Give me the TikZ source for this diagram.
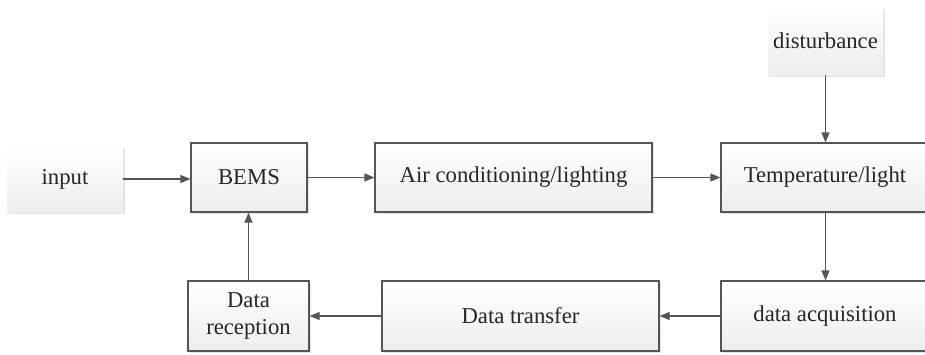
\documentclass[tikz,border=0pt]{standalone}
\usepackage{fontspec}
\setmainfont{Liberation Serif}
\usetikzlibrary{arrows.meta,shadows}
\definecolor{linec}{HTML}{555555}
\definecolor{textc}{HTML}{262626}
\tikzset{
  base/.style={rectangle, inner sep=2pt, align=center, text=textc,
    font=\fontsize{22.7}{25}\selectfont, top color=white, bottom color=gray!14,
    drop shadow={shadow xshift=2pt, shadow yshift=-2pt, fill=gray!35, opacity=0.6}},
  blk/.style={base, draw=linec, line width=1.2pt},
  src/.style={base},
  conn/.style={draw=linec, line width=1.2pt, -{Triangle[length=10pt,width=8pt]}}
}
\begin{document}
\begin{tikzpicture}[x=1pt,y=-1pt]
\useasboundingbox (0,0) rectangle (925,354);
\node[src, minimum width=116pt, minimum height=66pt] (input) at (65,179) {input};
\node[src, minimum width=115pt, minimum height=68pt] (dist) at (825.5,41) {disturbance};
\node[blk, minimum width=116pt, minimum height=69pt] (bems) at (249,177.5) {BEMS};
\node[blk, minimum width=277pt, minimum height=69pt] (air) at (513.5,177.5) {Air conditioning/lighting};
\node[blk, minimum width=208pt, minimum height=69pt] (temp) at (825,177.5) {Temperature/light};
\node[blk, minimum width=121pt, minimum height=70pt] (rec) at (248.5,316) {Data\\[2pt]reception};
\node[blk, minimum width=277pt, minimum height=70pt] (trans) at (520.5,316) {Data transfer};
\node[blk, minimum width=208pt, minimum height=70pt] (acq) at (825,316) {data acquisition};
\draw[conn] (input.east) -- (input.east -| bems.west);
\draw[conn] (bems.east) -- (air.west);
\draw[conn] (air.east) -- (temp.west);
\draw[conn] (dist.south) -- (dist.south |- temp.north);
\draw[conn] (temp.south -| dist.south) -- (acq.north -| dist.south);
\draw[conn] (acq.west |- trans.east) -- (trans.east);
\draw[conn] (trans.west) -- (rec.east);
\draw[conn] (rec.north) -- (rec.north |- bems.south);
\end{tikzpicture}
\end{document}
